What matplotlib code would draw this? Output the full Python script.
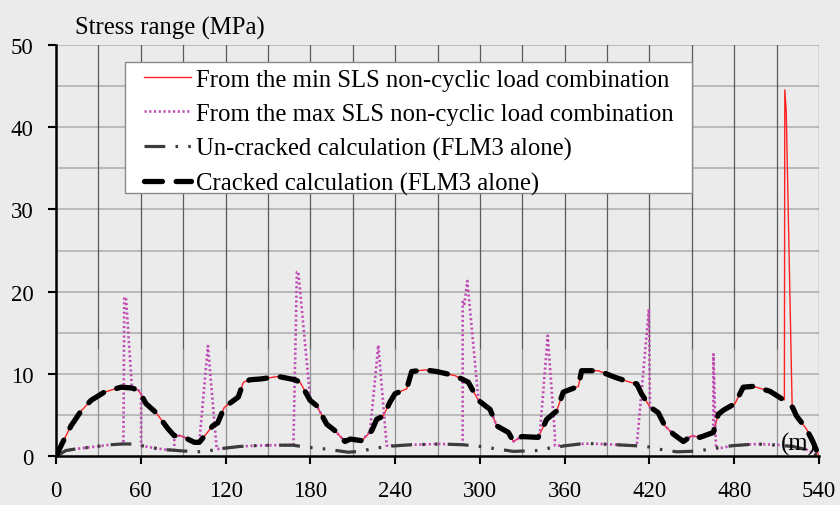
import matplotlib
matplotlib.use('Agg')
import matplotlib.pyplot as plt
from matplotlib.patches import Rectangle

plt.rcParams['font.family'] = ['Liberation Serif', 'DejaVu Serif']

# ---------------- data ----------------
min_sls_x = [0, 4.7, 10.6, 17.7, 24.8, 34.2, 46, 53.6, 58.5, 63.7, 70.8, 79, 83.7, 88.4, 97.9, 101.4,
             106.2, 110.9, 114.4, 119.1, 129, 132.6, 137.3, 145, 157.3, 169.1, 172.7, 179.8, 184.5,
             191.6, 197.5, 204.5, 208.4, 216.3, 223.4, 227, 231.6, 236.4, 239.9, 248.2, 251.7, 261.1,
             269.4, 282.4, 291.8, 298.9, 307.2, 311.9, 320.2, 323.7, 329.6, 341.3, 347.3, 354.3, 359,
             369.7, 372, 383.8, 395.6, 406.2, 411, 414.4, 420.3, 426.2, 430.9, 436.9, 444, 449.9,
             455.7, 465.2, 468.7, 472.3, 480.5, 486.4, 493.5, 505.3, 513.6, 515.5, 515.8, 516.8,
             521.0, 524.1, 531.2, 535.9, 540]
min_sls_y = [0, 1.7, 3.7, 5.5, 6.8, 7.8, 8.4, 8.3, 8.0, 6.4, 5.3, 3.4, 2.5, 2.5, 1.7, 1.7,
             2.7, 3.7, 4.05, 5.95, 7.2, 9.0, 9.3, 9.4, 9.7, 9.3, 9.0, 6.8, 6.15,
             3.9, 3.1, 1.8, 2.1, 1.9, 3.1, 4.5, 4.9, 6.6, 7.6, 8.2, 10.3, 10.5,
             10.3, 9.8, 9.0, 6.8, 5.7, 3.7, 2.9, 1.8, 2.4, 2.3, 4.5, 5.5, 7.8,
             8.5, 10.4, 10.4, 9.6, 9.0, 8.8, 7.6, 6.0, 5.3, 3.7, 2.7, 1.8, 2.5,
             2.3, 2.9, 5.1, 5.6, 6.4, 8.4, 8.5, 7.9, 7.0, 6.85, 44.5, 42.0,
             6.0, 4.9, 3.3, 1.7, 0]

max_sls_x = [0, 7, 14, 24, 38, 47.7, 48.3, 49.5, 53.6, 58.5, 60.2, 60.2, 69.7, 78.3, 83.7, 83.7,
             88.4, 97.9, 101.4, 107.5, 113.7, 114.9, 130, 142, 153.6, 168, 170.5, 171.5, 180,
             184.5, 191.6, 197.5, 204.5, 208.4, 216.3, 222.2, 228.1, 234, 250.6, 271.8, 287.8,
             287.8, 289, 291.1, 298.9, 307.2, 311.9, 320.2, 323.7, 329.6, 341.3, 342.5, 348,
             353.1, 353.1, 361.1, 370.8, 377.9, 392, 408.5, 411, 419.6, 420.4, 426.2, 430.9,
             436.9, 444, 449.9, 455.7, 465.2, 465.3, 467.1, 479.3, 495.8, 510, 521.7, 531.2, 540]
max_sls_y = [0, 0.7, 0.9, 1.1, 1.4, 1.5, 19.3, 19.3, 8.6, 8.0, 7.8, 1.3, 1.0, 0.8, 0.75, 2.5,
             2.5, 1.7, 1.7, 13.4, 0.9, 0.9, 1.2, 1.3, 1.35, 1.4, 22.4, 22.4, 6.8,
             6.15, 3.9, 3.1, 1.8, 2.1, 1.9, 3.0, 13.5, 1.3, 1.4, 1.5, 1.4,
             18.9, 18.5, 21.3, 7.0, 5.7, 3.7, 2.9, 1.8, 2.4, 2.3, 2.9, 14.65,
             2.5, 1.3, 1.3, 1.5, 1.55, 1.45, 1.3, 1.3, 17.9, 5.75, 5.3, 3.7,
             2.7, 1.8, 2.5, 2.3, 2.9, 12.4, 0.9, 1.3, 1.5, 1.4, 1.2, 0.8, 0]

uncracked_x = [0, 7, 14, 24, 38, 47, 55, 60.3, 69.7, 78.3, 90, 99.5, 106.6, 114.9, 130, 142, 153.6,
               167.8, 177.4, 185.6, 198.6, 206.8, 215, 223.4, 234, 250.6, 271.8, 288.3, 300,
               311.9, 323.7, 331.6, 339.9, 349.3, 361.1, 370.8, 377.9, 392, 408.5, 417.9, 427.4,
               439.2, 448.7, 456.9, 465.2, 479.3, 495.8, 510, 521.7, 531.2, 540]
uncracked_y = [0, 0.7, 0.9, 1.1, 1.4, 1.5, 1.5, 1.3, 1.0, 0.8, 0.65, 0.55, 0.6, 0.9, 1.2, 1.3, 1.35,
               1.35, 1.1, 1.0, 0.7, 0.5, 0.6, 0.9, 1.2, 1.4, 1.5, 1.4, 1.2,
               0.9, 0.6, 0.65, 0.7, 1.0, 1.3, 1.5, 1.55, 1.45, 1.3, 1.2, 0.85,
               0.55, 0.6, 0.7, 1.0, 1.3, 1.5, 1.35, 1.2, 0.8, 0]

cracked_x = [0, 4.7, 10.6, 17.7, 24.8, 34.2, 46, 53.6, 58.5, 63.7, 70.8, 79, 83.7, 88.4, 97.9, 101.4,
             106.2, 110.9, 114.4, 119.1, 129, 132.6, 137.3, 145, 157.3, 169.1, 172.7, 179.8, 184.5,
             191.6, 197.5, 204.5, 208.4, 216.3, 223.4, 227, 231.6, 236.4, 239.9, 248.2, 251.7, 261.1,
             269.4, 282.4, 291.8, 298.9, 307.2, 311.9, 320.2, 323.7, 329.6, 341.3, 347.3, 354.3, 359,
             369.7, 372, 383.8, 395.6, 406.2, 411, 414.4, 420.3, 426.2, 430.9, 436.9, 444, 449.9,
             455.7, 465.2, 468.7, 472.3, 480.5, 486.4, 493.5, 505.3, 513.6, 521.3, 524.1, 531.2,
             535.9, 540]
cracked_y = [0, 1.7, 3.7, 5.5, 6.8, 7.8, 8.4, 8.3, 8.0, 6.4, 5.3, 3.4, 2.5, 2.5, 1.7, 1.7,
             2.7, 3.7, 4.05, 5.95, 7.2, 9.0, 9.3, 9.4, 9.7, 9.3, 9.0, 6.8, 6.15,
             3.9, 3.1, 1.8, 2.1, 1.9, 3.1, 4.5, 4.9, 6.6, 7.6, 8.2, 10.3, 10.5,
             10.3, 9.8, 9.0, 6.8, 5.7, 3.7, 2.9, 1.8, 2.4, 2.3, 4.5, 5.5, 7.8,
             8.5, 10.4, 10.4, 9.6, 9.0, 8.8, 7.6, 6.0, 5.3, 3.7, 2.7, 1.8, 2.5,
             2.3, 2.9, 5.1, 5.6, 6.4, 8.4, 8.5, 7.9, 7.0, 5.95, 4.9, 3.3,
             1.7, 0]

labels = ["From the min SLS non-cyclic load combination",
          "From the max SLS non-cyclic load combination",
          "Un-cracked calculation (FLM3 alone)",
          "Cracked calculation (FLM3 alone)"]
x_ticks = [0, 60, 120, 180, 240, 300, 360, 420, 480, 540]
y_ticks = [0, 10, 20, 30, 40, 50]

# ---------------- figure ----------------
BG = '#ebebeb'
FS = 17.8
TFS = 16.5
fig = plt.figure(figsize=(8.4, 5.06), dpi=100, facecolor=BG)
ax = fig.add_axes([0.0667, 0.0962, 0.9083, 0.8135])
ax.set_facecolor(BG)
ax.set_xlim(0, 540)
ax.set_ylim(0, 50)

# grid
for yv in range(5, 55, 5):
    ax.axhline(yv, color='#b9b9b9', lw=1.4, zorder=0.5)
for xv in range(30, 570, 30):
    ax.plot([xv, xv], [13, 50], color='#5a5a5a', lw=0.9, zorder=0.6)
    ax.plot([xv, xv], [0, 13], color='#8f8f8f', lw=0.9, zorder=0.6)

l1, = ax.plot(min_sls_x, min_sls_y, color='#ff2222', lw=1.0, zorder=2, label=labels[0])
l2, = ax.plot(max_sls_x, max_sls_y, color='#c04ab4', lw=1.9, linestyle=(0, (0.8, 1.0)),
              zorder=3, label=labels[1])
l3, = ax.plot(uncracked_x, uncracked_y, color='#3c3c3c', lw=2.3,
              linestyle=(0, (6.5, 3.2, 0.8, 3.2, 0.8, 3.2)), zorder=4, label=labels[2])
l4, = ax.plot(cracked_x, cracked_y, color='black', lw=3.8, linestyle=(0, (3.4, 2.6)),
              dash_capstyle='round', zorder=5, label=labels[3])

for s in ['top', 'right']:
    ax.spines[s].set_visible(False)
for s in ['left', 'bottom']:
    ax.spines[s].set_linewidth(1.8)
    ax.spines[s].set_color('black')
    ax.spines[s].set_zorder(6)

ax.set_xticks(x_ticks)
ax.set_yticks(y_ticks)
ax.tick_params(axis='x', direction='out', length=5.5, width=1.5, pad=11.5, labelsize=TFS)
ax.tick_params(axis='y', direction='out', length=5.5, width=1.5, pad=10.5, labelsize=TFS)

# legend box
ax.add_patch(Rectangle((0.0904, 0.6397), 0.7432, 0.3183, transform=ax.transAxes,
                       facecolor='white', edgecolor='#8a8a8a', lw=1.0, zorder=7))
leg = ax.legend(handles=[l1, l2, l3, l4], loc='upper left', bbox_to_anchor=(0.1153, 0.942),
                frameon=False, fontsize=FS, handlelength=1.9, handletextpad=0.22,
                labelspacing=0.48, borderpad=0, borderaxespad=0)
leg.set_zorder(8)

ax.text(526, 1.6, '(m)', fontsize=FS, ha='center', va='center', zorder=6)
fig.text(75 / 840, (506 - 28) / 506, 'Stress range (MPa)', fontsize=FS, ha='left', va='center')

fig.savefig('out.png', dpi=100, facecolor=BG)
